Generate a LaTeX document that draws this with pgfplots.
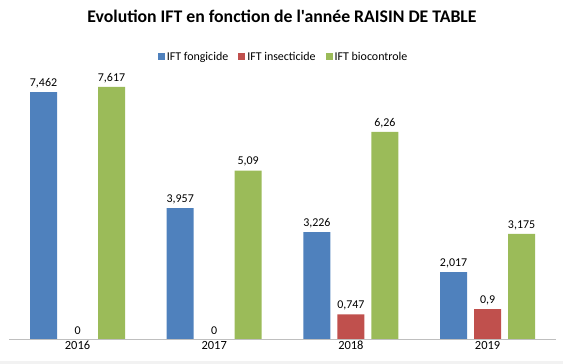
\documentclass[border=0pt]{standalone}
\usepackage{pgfplots}
\pgfplotsset{compat=1.18}
\usepackage{pgfplotstable}
\usepackage{fontspec}
\setmainfont{Carlito}[Ligatures=TeXOff]
\definecolor{cblue}{HTML}{4F81BD}
\definecolor{cred}{HTML}{C0504D}
\definecolor{cgreen}{HTML}{9BBB59}
\pgfplotstableread{
x y lab
0 7.462 7,462
1 3.957 3,957
2 3.226 3,226
3 2.017 2,017
}\fong
\pgfplotstableread{
x y lab
0 0 0
1 0 0
2 0.747 0,747
3 0.9 0,9
}\insect
\pgfplotstableread{
x y lab
0 7.617 7,617
1 5.09 5,09
2 6.26 6,26
3 3.175 3,175
}\bio
\begin{document}
\begin{tikzpicture}
\fill[black!5] (-9.2bp,-25bp) rectangle (553.8bp,-22bp);
\begin{axis}[
  scale only axis, width=546.7bp, height=264.8bp,
  xmin=-0.5, xmax=3.5, ymin=0, ymax=8,
  ybar=7bp, bar width=27bp,
  axis x line*=bottom, axis y line=none,
  x axis line style={draw=black!25, line width=0.8pt},
  xtick={0,1,2,3}, xticklabels={2016,2017,2018,2019},
  major tick length=0pt,
  xticklabel style={font=\fontsize{12.5}{14}\selectfont, inner sep=2bp},
  nodes near coords, point meta=explicit symbolic,
  nodes near coords style={font=\fontsize{12}{14}\selectfont, black, inner sep=2bp, yshift=2bp},
  title={\bfseries Evolution IFT en fonction de l'année RAISIN DE TABLE},
  title style={at={(0.499,1.197)}, anchor=center, font=\fontsize{17.8}{20}\selectfont},
  legend style={at={(0.502,1.066)}, anchor=center, draw=none, fill=none,
    font=\fontsize{12}{14}\selectfont, legend cell align=left,
    /tikz/every even column/.append style={column sep=8bp}},
  legend columns=3,
  legend image code/.code={\fill[#1] (0bp,-3.5bp) rectangle (7bp,3.5bp);},
]
\addplot[fill=cblue, draw=none] table[x=x,y=y,meta=lab]{\fong};
\addplot[fill=cred, draw=none] table[x=x,y=y,meta=lab]{\insect};
\addplot[fill=cgreen, draw=none] table[x=x,y=y,meta=lab]{\bio};
\legend{IFT fongicide, IFT insecticide, IFT biocontrole}
\end{axis}
\pgfresetboundingbox
\useasboundingbox (-9.2bp,-25bp) rectangle (553.8bp,339bp);
\end{tikzpicture}
\end{document}
